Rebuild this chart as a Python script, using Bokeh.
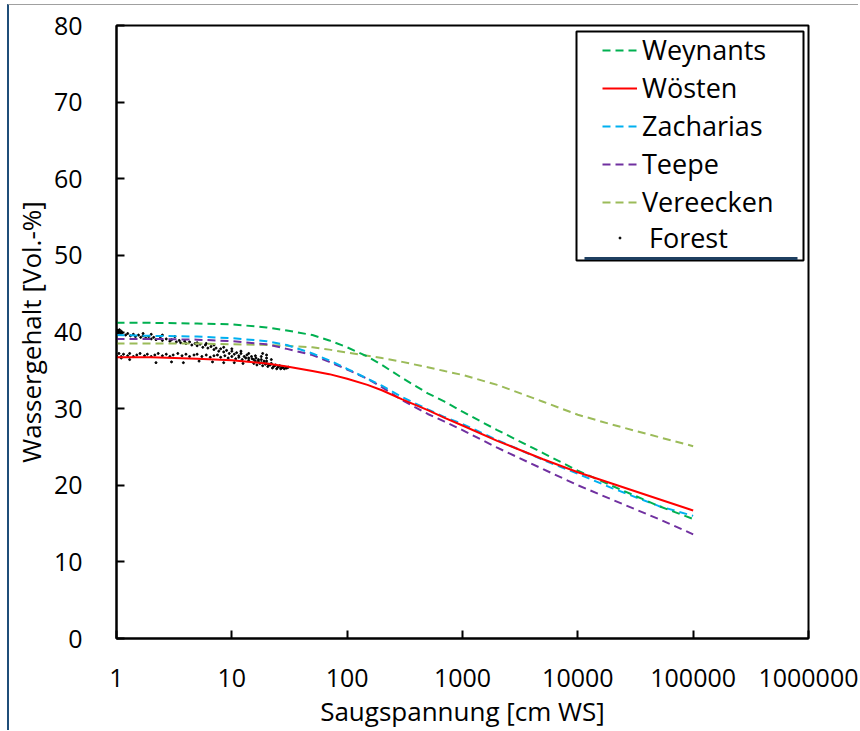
from bokeh.plotting import figure
from bokeh.models import (Range1d, FixedTicker, NumeralTickFormatter, Legend,
                          LegendItem, BoxAnnotation)
from bokeh.embed import file_html
from bokeh.resources import INLINE

# Suction (cm water column) at which the retention curves are tabulated
suction = [1, 2, 5, 10, 20, 30, 50, 70, 100, 150, 200, 300, 500, 700,
           1000, 2000, 5000, 10000, 20000, 50000, 100000]

# Water content (Vol.-%) predicted by each pedotransfer function
weynants = [41.2, 41.2, 41.1, 41.0, 40.6, 40.2, 39.6, 38.9, 38.0, 36.8,
            35.7, 34.0, 32.0, 30.9, 29.6, 27.2, 24.2, 21.9, 19.9, 17.3, 15.6]
woesten = [36.7, 36.7, 36.5, 36.3, 35.9, 35.5, 34.9, 34.5, 33.9, 33.1,
           32.4, 31.2, 29.8, 28.8, 27.8, 25.8, 23.4, 21.7, 20.2, 18.2, 16.7]
zacharias = [39.6, 39.5, 39.4, 39.2, 38.8, 38.3, 37.2, 36.3, 35.2, 33.9,
             33.0, 31.5, 29.9, 28.9, 28.0, 25.9, 23.3, 21.5, 19.6, 17.3, 16.0]
teepe = [39.1, 39.1, 39.0, 38.8, 38.4, 37.8, 37.0, 36.1, 35.1, 33.9,
         32.8, 31.1, 29.3, 28.3, 27.2, 24.9, 22.1, 20.0, 18.1, 15.6, 13.6]
vereecken = [38.5, 38.5, 38.5, 38.4, 38.3, 38.2, 38.0, 37.7, 37.3, 36.9,
             36.6, 36.1, 35.4, 34.9, 34.4, 33.1, 30.9, 29.2, 27.9, 26.3, 25.1]

# Measured forest soil: suction (cm WS) and water content (Vol.-%)
forest_h = [
    # wetter branch
    1.0, 1.02, 1.05, 1.08, 1.12, 1.2, 1.25, 1.32, 1.4, 1.46, 1.55, 1.62,
    1.7, 1.79, 1.9, 2.0, 2.1, 2.2, 2.4, 2.5, 2.7, 2.9, 3.0, 3.3, 3.5, 3.6,
    3.9, 4.0, 4.3, 4.5, 4.8, 5.0, 5.3, 5.6, 5.9, 6.2, 6.6, 7.0, 7.3, 7.7,
    8.0, 8.5, 9.0, 9.5, 10.0, 10.5, 11.0, 11.5, 12.0, 12.8, 13.5, 14.0,
    14.8, 15.5, 16.2, 17.0, 18.0, 19.0, 20.0, 21.0,
    5.0, 6.0, 7.0, 8.5, 10.0, 12.0, 14.0, 16.0,
    1.0, 1.03, 1.06, 1.1, 1.7, 2.0, 2.5, 3.2,
    # drier branch
    1.0, 1.05, 1.1, 1.15, 1.25, 1.3, 1.4, 1.5, 1.6, 1.75, 1.85, 2.0, 2.15,
    2.3, 2.5, 2.7, 2.9, 3.1, 3.4, 3.7, 4.0, 4.3, 4.7, 5.0, 5.5, 6.0, 6.5,
    7.0, 7.5, 8.0, 8.7, 9.3, 10.0, 10.8, 11.5, 12.3, 13.2, 14.0, 15.0,
    16.0, 17.0, 18.0, 19.0, 20.0, 21.0, 22.0, 23.0, 24.0, 25.0, 26.0,
    27.0, 28.0, 29.5, 31.0,
    1.3, 2.2, 3.0, 3.8, 5.2, 6.8, 8.5, 10.5, 12.5, 1.1,
    15.5, 16.5, 17.5, 18.5, 19.5, 20.5, 21.5, 22.5, 23.5, 24.5, 25.5,
    26.5, 27.5, 28.5, 30.0, 20.0, 18.0, 22.0, 18.5, 20.0,
]
forest_theta = [
    40.1, 39.8, 40.0, 39.7, 39.9, 39.6, 39.8, 39.5, 39.7, 39.4, 39.6, 39.3,
    39.5, 39.2, 39.4, 39.1, 39.3, 39.0, 39.2, 38.9, 39.1, 38.8, 39.0, 38.7,
    38.9, 38.6, 38.8, 38.5, 38.7, 38.3, 38.5, 38.2, 38.4, 38.0, 38.3, 37.9,
    38.1, 37.7, 37.9, 37.5, 37.8, 37.4, 37.6, 37.2, 37.5, 37.1, 37.3, 36.9,
    37.2, 36.8, 37.0, 36.6, 36.8, 36.4, 36.6, 36.2, 36.4, 36.0, 36.2, 35.8,
    38.6, 38.5, 38.3, 38.0, 37.8, 37.5, 37.2, 36.9,
    40.3, 40.2, 40.3, 40.1, 39.8, 39.7, 39.6, 39.4,
    36.9, 37.2, 36.8, 37.1, 36.9, 37.2, 36.8, 37.0, 37.2, 36.9, 37.1, 36.8,
    37.0, 37.2, 36.9, 37.1, 36.8, 37.0, 37.2, 36.9, 37.1, 36.8, 37.0, 37.1,
    36.8, 37.0, 36.7, 36.9, 37.0, 36.7, 36.9, 36.6, 36.8, 36.5, 36.7, 36.4,
    36.6, 36.3, 36.5, 36.2, 36.4, 36.0, 36.2, 35.9, 35.7, 35.9, 35.5, 35.7,
    35.4, 35.6, 35.3, 35.5, 35.3, 35.4,
    36.4, 36.0, 36.1, 36.0, 36.2, 36.1, 36.0, 36.0, 35.9, 36.6,
    35.9, 35.7, 35.9, 35.6, 35.8, 35.5, 35.7, 35.3, 35.6, 35.2, 35.5,
    35.2, 35.4, 35.2, 35.3, 36.6, 36.8, 36.4, 37.2, 37.0,
]

x_ticks = [1, 10, 100, 1000, 10000, 100000, 1000000]
y_ticks = [0, 10, 20, 30, 40, 50, 60, 70, 80]

FONT = "Open Sans"

p = figure(width=851, height=726, x_axis_type="log",
           x_range=Range1d(1, 1000000), y_range=Range1d(0, 80),
           output_backend="svg", toolbar_location=None,
           min_border_left=107, min_border_right=52,
           min_border_top=20, min_border_bottom=93,
           background_fill_color="white", border_fill_color="white")

# page frame: thin grey rule on top, dark blue rule on the left
p.styles = {"margin-left": "7px", "margin-top": "4px",
            "border-left": "2px solid #1f4e79",
            "border-top": "1px solid #a0a0a0"}

p.outline_line_color = "black"
p.outline_line_width = 2
p.xgrid.grid_line_color = None
p.ygrid.grid_line_color = None

for ax in (p.xaxis[0], p.yaxis[0]):
    ax.axis_line_color = "black"
    ax.axis_line_width = 2
    ax.major_tick_line_color = "black"
    ax.major_tick_line_width = 2
    ax.major_tick_in = 8
    ax.major_tick_out = 0
    ax.minor_tick_line_color = None
    ax.major_label_text_font = FONT
    ax.major_label_text_font_size = "25px"
    ax.major_label_text_color = "black"
    ax.axis_label_text_font = FONT
    ax.axis_label_text_font_size = "26px"
    ax.axis_label_text_font_style = "normal"
    ax.axis_label_text_color = "black"

p.xaxis[0].ticker = FixedTicker(ticks=x_ticks)
p.xaxis[0].formatter = NumeralTickFormatter(format="0")
p.xaxis[0].major_label_standoff = 30
p.xaxis[0].axis_label = "Saugspannung [cm WS]"
p.xaxis[0].axis_label_standoff = 3

p.yaxis[0].ticker = FixedTicker(ticks=y_ticks)
p.yaxis[0].major_label_standoff = 34
p.yaxis[0].axis_label = "Wassergehalt [Vol.-%]"
p.yaxis[0].axis_label_standoff = 2

DASH = "8 5"
r_forest = p.scatter(forest_h, forest_theta, size=2, color="black")
r_vere = p.line(suction, vereecken, line_color="#9bbb59", line_width=2,
                line_dash=DASH)
r_teepe = p.line(suction, teepe, line_color="#7030a0", line_width=2,
                 line_dash=DASH)
r_zach = p.line(suction, zacharias, line_color="#00b0f0", line_width=2,
                line_dash=DASH)
r_wey = p.line(suction, weynants, line_color="#00b050", line_width=2,
               line_dash=DASH)
r_woe = p.line(suction, woesten, line_color="#ff0000", line_width=2)

# legend frame (canvas pixels)
p.add_layout(BoxAnnotation(left=565, right=792, top=25, bottom=254,
                           left_units="canvas", right_units="canvas",
                           top_units="canvas", bottom_units="canvas",
                           fill_color="white", fill_alpha=1,
                           line_color="black", line_width=2, line_alpha=1))
p.add_layout(BoxAnnotation(left=573, right=786, top=250.5, bottom=253.5,
                           left_units="canvas", right_units="canvas",
                           top_units="canvas", bottom_units="canvas",
                           fill_color="#1f3f60", fill_alpha=1,
                           line_color=None))


def style_legend(lg, glyph_w, glyph_h, standoff):
    lg.padding = 0
    lg.margin = 0
    lg.spacing = 1
    lg.glyph_width = glyph_w
    lg.glyph_height = glyph_h
    lg.label_height = 20
    lg.label_standoff = standoff
    lg.label_text_font = FONT
    lg.label_text_font_size = "27px"
    lg.label_text_color = "black"
    lg.border_line_alpha = 0
    lg.background_fill_alpha = 0


legend = Legend(items=[
    LegendItem(label="Weynants", renderers=[r_wey]),
    LegendItem(label="Wösten", renderers=[r_woe]),
    LegendItem(label="Zacharias", renderers=[r_zach]),
    LegendItem(label="Teepe", renderers=[r_teepe]),
    LegendItem(label="Vereecken", renderers=[r_vere]),
], location=(486, 418))
style_legend(legend, 35, 20, 5)
p.add_layout(legend)

# measured points get a tiny dot as their key
legend_pts = Legend(items=[
    LegendItem(label="Forest", renderers=[r_forest]),
], location=(501, 382))
style_legend(legend_pts, 5, 5, 27)
p.add_layout(legend_pts)

open("out.html", "w").write(file_html(p, INLINE))
